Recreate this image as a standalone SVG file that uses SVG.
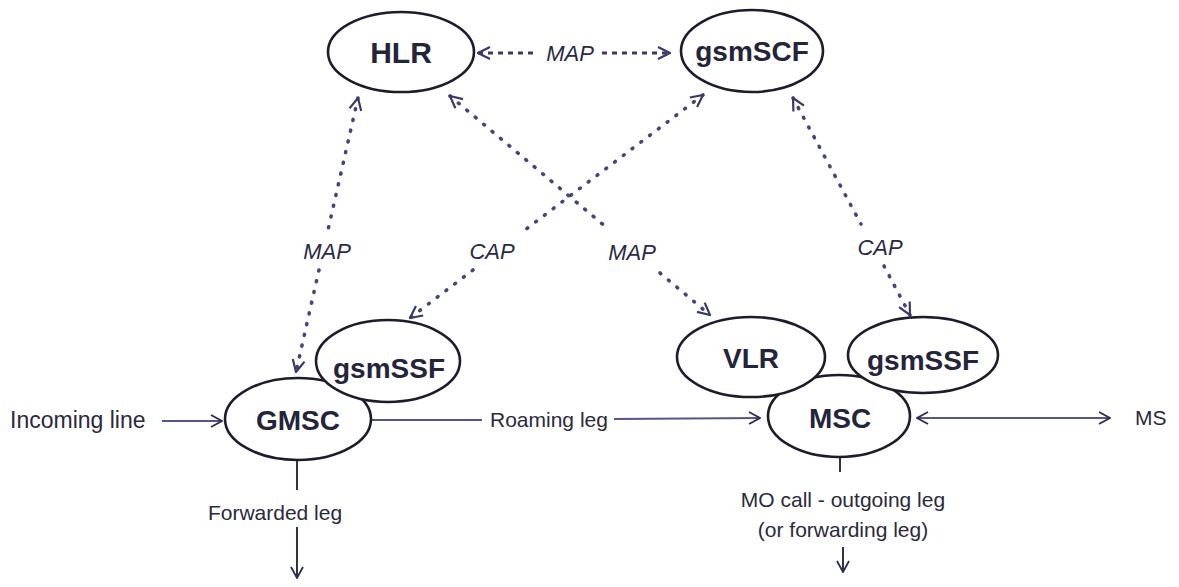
<svg xmlns="http://www.w3.org/2000/svg" width="1179" height="587" viewBox="0 0 1179 587">
<style>
.node ellipse{fill:#fff;stroke:#1c1c2c;stroke-width:2.6}
.node text{font-family:"Liberation Sans",Arial,sans-serif;font-weight:bold;font-size:28px;fill:#24243a;text-anchor:middle}
.dot{fill:none;stroke:#45457a;stroke-width:3.6;stroke-linecap:round;stroke-dasharray:1 10}
.dash{fill:none;stroke:#3a3a62;stroke-width:3;stroke-dasharray:5 5}
.solid{fill:none;stroke:#55558a;stroke-width:1.8}
.blk{fill:none;stroke:#1c1c2c;stroke-width:1.8}
.lbl{font-family:"Liberation Sans",Arial,sans-serif;font-size:21px;fill:#2a2a3a}
.ital{font-family:"Liberation Sans",Arial,sans-serif;font-size:22px;font-style:italic;fill:#2a2a44;text-anchor:middle}
</style>
<defs>
<marker id="dh" markerUnits="userSpaceOnUse" viewBox="0 0 16 16" markerWidth="16" markerHeight="16" refX="15" refY="8" orient="auto-start-reverse">
<path d="M3,2 L15,8 L3,14" fill="none" stroke="#3a3a6a" stroke-width="2.2"/>
</marker>
<marker id="sh" markerUnits="userSpaceOnUse" viewBox="0 0 16 16" markerWidth="16" markerHeight="16" refX="15" refY="8" orient="auto-start-reverse">
<path d="M4,2 L15,8 L4,14" fill="none" stroke="#2c2c50" stroke-width="1.8"/>
</marker>
</defs>

<g id="connectors">
<!-- HLR <-> gsmSCF MAP -->
<line class="dash" x1="478" y1="53" x2="538" y2="53" marker-start="url(#dh)"/>
<line class="dash" x1="602" y1="53" x2="670" y2="53" marker-end="url(#dh)"/>
<!-- HLR <-> GMSC MAP -->
<line class="dot" x1="358" y1="98" x2="328" y2="230" marker-start="url(#dh)"/>
<line class="dot" x1="319" y1="270" x2="296" y2="372" marker-end="url(#dh)"/>
<!-- HLR <-> VLR MAP -->
<line class="dot" x1="450" y1="96" x2="606" y2="227" marker-start="url(#dh)"/>
<line class="dot" x1="660" y1="273" x2="710" y2="315" marker-end="url(#dh)"/>
<!-- gsmSCF <-> gsmSSF left CAP -->
<line class="dot" x1="703" y1="95" x2="525" y2="230" marker-start="url(#dh)"/>
<line class="dot" x1="473" y1="270" x2="410" y2="318" marker-end="url(#dh)"/>
<!-- gsmSCF <-> gsmSSF right CAP -->
<line class="dot" x1="793" y1="98" x2="861" y2="224" marker-start="url(#dh)"/>
<line class="dot" x1="884" y1="266" x2="910" y2="315" marker-end="url(#dh)"/>
<!-- Incoming line -->
<line class="solid" x1="162" y1="421" x2="222" y2="421" marker-end="url(#sh)"/>
<!-- Roaming leg -->
<line class="solid" x1="372" y1="420" x2="482" y2="420"/>
<line class="solid" x1="614" y1="419" x2="760" y2="418" marker-end="url(#sh)"/>
<!-- MSC <-> MS -->
<line class="solid" x1="917" y1="418" x2="1110" y2="418" marker-start="url(#sh)" marker-end="url(#sh)"/>
<!-- Forwarded leg -->
<line class="blk" x1="297" y1="460" x2="297" y2="490"/>
<line class="blk" x1="297" y1="527" x2="297" y2="578" marker-end="url(#sh)"/>
<!-- MO call -->
<line class="blk" x1="840" y1="457" x2="840" y2="472"/>
<line class="blk" x1="843" y1="547" x2="843" y2="572" marker-end="url(#sh)"/>
<!-- labels -->
<text class="ital" x="570" y="61">MAP</text>
<text class="ital" x="327" y="259">MAP</text>
<text class="ital" x="492" y="259">CAP</text>
<text class="ital" x="632" y="260">MAP</text>
<text class="ital" x="880" y="255">CAP</text>
</g>

<g id="hlr" class="node"><ellipse cx="401" cy="52" rx="73" ry="40"/><text x="401" y="63" style="font-size:30px">HLR</text></g>
<g id="gsmscf" class="node"><ellipse cx="752" cy="51" rx="71" ry="41"/><text x="752" y="61">gsmSCF</text></g>
<g id="gmsc" class="node"><ellipse cx="298" cy="419" rx="73" ry="41"/><text x="298" y="430">GMSC</text></g>
<g id="gsmssf-left" class="node"><ellipse cx="388" cy="361" rx="72" ry="41"/><text x="389" y="378">gsmSSF</text></g>
<g id="msc" class="node"><ellipse cx="839" cy="416" rx="71" ry="41"/><text x="840" y="428">MSC</text></g>
<g id="vlr" class="node"><ellipse cx="751" cy="357" rx="74" ry="40"/><text x="751" y="368">VLR</text></g>
<g id="gsmssf-right" class="node"><ellipse cx="923" cy="355" rx="75" ry="38"/><text x="923" y="370">gsmSSF</text></g>

<g id="text-labels">
<text class="lbl" x="10" y="428" style="font-size:23px">Incoming line</text>
<text class="lbl" x="490" y="427">Roaming leg</text>
<text class="lbl" x="1135" y="425">MS</text>
<text class="lbl" x="275" y="520" text-anchor="middle">Forwarded leg</text>
<text class="lbl" x="843" y="507" text-anchor="middle">MO call - outgoing leg</text>
<text class="lbl" x="843" y="537" text-anchor="middle">(or forwarding leg)</text>
</g>
</svg>
